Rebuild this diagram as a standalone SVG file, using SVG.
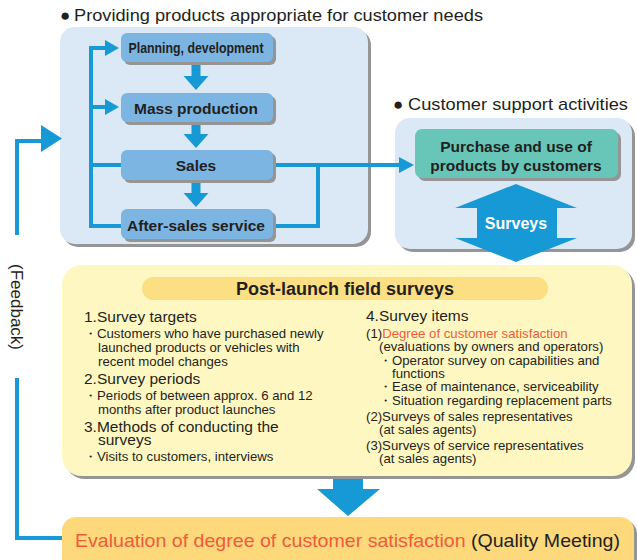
<svg xmlns="http://www.w3.org/2000/svg" width="637" height="560" viewBox="0 0 637 560">
<defs>
<style>
text{font-family:"Liberation Sans",Arial,sans-serif;fill:#231f20}
.b{font-weight:bold}
.sh{fill:#959595}
.panel{fill:#dbe9f6}
.box{fill:#7cb5e2}
.ln{fill:none;stroke:#1799d6;stroke-width:4}
.ar{fill:#1799d6}
.h15{font-size:15.5px}
.s13{font-size:13.2px}
.red{fill:#f15a3b}
</style>
</defs>
<rect width="637" height="560" fill="#ffffff"/>

<!-- headings -->
<text x="60" y="21" font-size="17">●</text>
<text x="74" y="21" font-size="17" textLength="409" lengthAdjust="spacingAndGlyphs">Providing products appropriate for customer needs</text>
<text x="393" y="110" font-size="17">●</text>
<text x="408" y="110" font-size="17" textLength="220" lengthAdjust="spacingAndGlyphs">Customer support activities</text>

<!-- panels -->
<g id="panel-products">
<rect class="sh" x="63" y="30" width="308" height="217" rx="15"/>
<rect class="panel" x="60" y="27" width="308" height="217" rx="15"/>
</g>
<g id="panel-support">
<rect class="sh" x="398" y="121" width="237" height="131" rx="15"/>
<rect class="panel" x="395" y="118" width="237" height="131" rx="15"/>
</g>

<!-- connectors -->
<g id="connectors">
<path class="ln" d="M91 46 V228 M89 48 H107 M91 107 H107 M91 165 H122 M91 226 H122"/>
<path class="ar" d="M105 40 L119 48 L105 56 Z M105 99 L119 107 L105 115 Z"/>
<path class="ln" d="M272 165 H401 M318 165 V226 M272 226 H320"/>
<path class="ar" d="M399 157 L414 165 L399 173 Z"/>
<!-- box arrows -->
<path class="ar" d="M191.5 62 H200.5 V76 H208.5 L196 90 L183.5 76 H191.5 Z"/>
<path class="ar" d="M191.5 122 H200.5 V134 H208.5 L196 148 L183.5 134 H191.5 Z"/>
<path class="ar" d="M191.5 180 H200.5 V193 H208.5 L196 207 L183.5 193 H191.5 Z"/>
<!-- feedback -->
<path class="ln" d="M17 235 V141 H43" stroke-width="7"/>
<path class="ar" d="M41 125 L62 138.5 L41 152 Z"/>
<path class="ln" d="M17 378 V538 H64" stroke-width="7"/>
<!-- surveys double arrow -->
<path class="ar" d="M516 184 L577 208 H557 V238 H577 L516 262 L455 238 H477 V208 H455 Z"/>
<!-- big down arrow -->
<path class="ar" d="M333 476 H363 V489 H380 L348 516 L317 489 H333 Z"/>
</g>
<text x="516" y="229" text-anchor="middle" font-size="16" class="b" style="fill:#ffffff">Surveys</text>
<text transform="translate(11,307) rotate(90)" text-anchor="middle" font-size="17">(Feedback)</text>

<!-- process boxes -->
<g id="planning">
<rect class="sh" x="124" y="36" width="152" height="29" rx="6"/>
<rect class="box" x="121" y="33" width="152" height="29" rx="6"/>
<text x="196" y="53" text-anchor="middle" font-size="14" class="b" textLength="135" lengthAdjust="spacingAndGlyphs">Planning, development</text>
</g>
<g id="mass-production">
<rect class="sh" x="124" y="96" width="152" height="29" rx="6"/>
<rect class="box" x="121" y="93" width="152" height="29" rx="6"/>
<text x="196" y="114" text-anchor="middle" class="b h15">Mass production</text>
</g>
<g id="sales">
<rect class="sh" x="124" y="153" width="152" height="30" rx="6"/>
<rect class="box" x="121" y="150" width="152" height="30" rx="6"/>
<text x="196" y="171" text-anchor="middle" class="b h15">Sales</text>
</g>
<g id="after-sales">
<rect class="sh" x="124" y="212" width="152" height="30" rx="6"/>
<rect class="box" x="121" y="209" width="152" height="30" rx="6"/>
<text x="196" y="231" text-anchor="middle" class="b h15">After-sales service</text>
</g>
<g id="purchase">
<rect class="sh" x="418" y="132" width="203" height="49" rx="7"/>
<rect x="415" y="129" width="203" height="49" rx="7" fill="#68c6b9"/>
<text x="516" y="152" text-anchor="middle" class="b h15">Purchase and use of</text>
<text x="516" y="171" text-anchor="middle" class="b h15">products by customers</text>
</g>

<!-- field surveys panel -->
<g id="field-surveys">
<rect class="sh" x="65" y="268" width="570" height="211" rx="20"/>
<rect x="62" y="265" width="570" height="211" rx="20" fill="#fff7c2"/>
<rect x="142" y="277" width="406" height="23" rx="11.5" fill="#fddf83"/>
<text x="345" y="295" text-anchor="middle" font-size="18" class="b">Post-launch field surveys</text>

<text x="84" y="322" class="h15">1.Survey targets</text>
<text x="84" y="338" class="s13">・Customers who have purchased newly</text>
<text x="98" y="352" class="s13">launched products or vehicles with</text>
<text x="98" y="366" class="s13">recent model changes</text>
<text x="84" y="384" class="h15">2.Survey periods</text>
<text x="84" y="400" class="s13">・Periods of between approx. 6 and 12</text>
<text x="98" y="414" class="s13">months after product launches</text>
<text x="84" y="432" class="h15">3.Methods of conducting the</text>
<text x="98" y="445" class="h15">surveys</text>
<text x="84" y="461" class="s13">・Visits to customers, interviews</text>

<text x="366" y="321" class="h15">4.Survey items</text>
<text x="366" y="338" class="s13">(1)<tspan class="red">Degree of customer satisfaction</tspan></text>
<text x="379" y="351" class="s13">(evaluations by owners and operators)</text>
<text x="379" y="365" class="s13">・Operator survey on capabilities and</text>
<text x="392" y="378" class="s13">functions</text>
<text x="379" y="391" class="s13">・Ease of maintenance, serviceability</text>
<text x="379" y="405" class="s13">・Situation regarding replacement parts</text>
<text x="366" y="421" class="s13">(2)Surveys of sales representatives</text>
<text x="379" y="434" class="s13">(at sales agents)</text>
<text x="366" y="450" class="s13">(3)Surveys of service representatives</text>
<text x="379" y="463" class="s13">(at sales agents)</text>
</g>

<!-- evaluation -->
<g id="evaluation">
<rect class="sh" x="65" y="520" width="572" height="60" rx="14"/>
<rect x="62" y="517" width="572" height="60" rx="14" fill="#fdd97c"/>
<text x="75" y="547" font-size="19" textLength="545" lengthAdjust="spacingAndGlyphs"><tspan class="red">Evaluation of degree of customer satisfaction</tspan> (Quality Meeting)</text>
</g>
</svg>
